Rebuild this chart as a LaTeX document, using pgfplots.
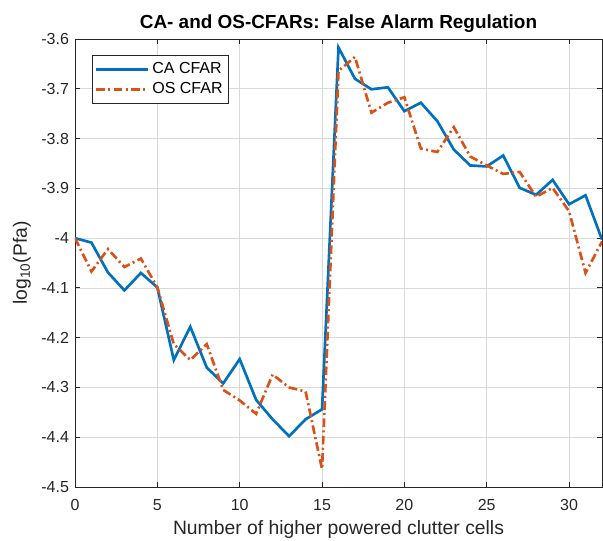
\documentclass[border=0pt]{standalone}
\usepackage{fontspec}
\setmainfont{Liberation Sans}
\usepackage{pgfplots}
\pgfplotsset{compat=1.18}
\definecolor{mblue}{rgb}{0,0.447,0.741}
\definecolor{morange}{rgb}{0.851,0.325,0.098}
\definecolor{axgray}{rgb}{0.15,0.15,0.15}
\begin{document}
\begin{tikzpicture}
\path[use as bounding box] (-56.25pt,-39.75pt) rectangle (396pt,365.25pt);
\begin{axis}[
  at={(0,0)}, anchor=south west,
  scale only axis, width=395.25pt, height=336pt,
  xmin=0, xmax=32, ymin=-4.5, ymax=-3.6,
  xtick={0,5,10,15,20,25,30}, xticklabels={0,5,10,15,20,25,30},
  ytick={-4.5,-4.4,-4.3,-4.2,-4.1,-4,-3.9,-3.8,-3.7,-3.6},
  yticklabels={-4.5,-4.4,-4.3,-4.2,-4.1,-4,-3.9,-3.8,-3.7,-3.6},
  grid=major, major grid style={color=black!15, line width=0.5pt},
  axis line style={axgray, line width=0.6pt},
  tick style={axgray, line width=0.6pt},
  major tick length=4pt,
  tick align=inside,
  ticklabel style={font=\fontsize{12}{14}\selectfont, text=axgray},
  xticklabel style={anchor=base, yshift=-17.25pt},
  yticklabel style={anchor=east, xshift=-1pt},
  xlabel={Number of higher powered clutter cells},
  ylabel={log\textsubscript{10}(Pfa)},
  label style={font=\fontsize{14.5}{17}\selectfont, text=axgray},
  xlabel style={at={(rel axis cs:0.5,0)}, anchor=base, yshift=-35.25pt},
  ylabel style={at={(rel axis cs:0,0.5)}, anchor=base, yshift=36pt},
  title={CA- and OS-CFARs: False Alarm Regulation},
  title style={at={(rel axis cs:0.5,1)}, anchor=base, yshift=1.8pt, font=\bfseries\fontsize{14.2}{17}\selectfont},
  legend style={at={(rel axis cs:0.0323,0.964)}, anchor=north west, draw=axgray, line width=0.5pt,
    font=\fontsize{12}{14}\selectfont, inner xsep=2pt, inner ysep=3.5pt, row sep=1pt,
    /tikz/every even column/.append style={column sep=1pt}},
  legend cell align=left,
  legend image code/.code={\draw[#1] (0pt,0pt) -- (39pt,0pt);},
]
\addplot[mblue, line width=2pt] coordinates {
(0,-4.000) (1,-4.009) (2,-4.069) (3,-4.105) (4,-4.070) (5,-4.099) (6,-4.245) (7,-4.178)
(8,-4.260) (9,-4.292) (10,-4.243) (11,-4.325) (12,-4.364) (13,-4.398) (14,-4.364) (15,-4.344)
(16,-3.617) (17,-3.680) (18,-3.701) (19,-3.697) (20,-3.745) (21,-3.728) (22,-3.765) (23,-3.822)
(24,-3.854) (25,-3.856) (26,-3.834) (27,-3.899) (28,-3.913) (29,-3.883) (30,-3.932) (31,-3.914) (32,-4.003)
};
\addlegendentry{CA CFAR}
\addplot[morange, line width=2pt, dash pattern=on 6.5pt off 2.5pt on 1.5pt off 2.5pt] coordinates {
(0,-4.000) (1,-4.067) (2,-4.022) (3,-4.058) (4,-4.041) (5,-4.099) (6,-4.213) (7,-4.245)
(8,-4.213) (9,-4.305) (10,-4.326) (11,-4.353) (12,-4.274) (13,-4.300) (14,-4.308) (15,-4.464)
(16,-3.664) (17,-3.636) (18,-3.748) (19,-3.728) (20,-3.717) (21,-3.820) (22,-3.827) (23,-3.777)
(24,-3.836) (25,-3.854) (26,-3.871) (27,-3.867) (28,-3.917) (29,-3.899) (30,-3.946) (31,-4.070) (32,-4.007)
};
\addlegendentry{OS CFAR}
\end{axis}
\end{tikzpicture}
\end{document}
